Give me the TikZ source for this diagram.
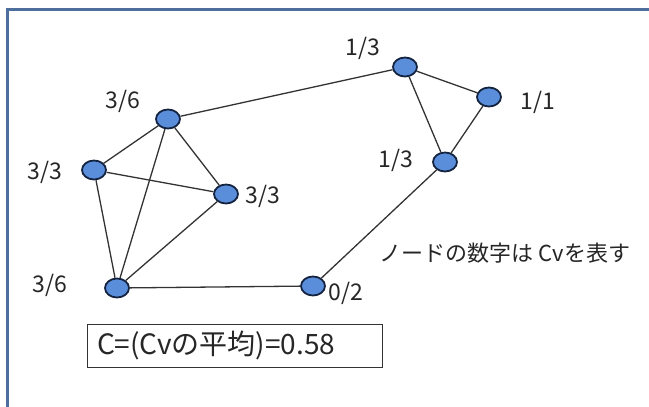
\documentclass[tikz,border=0pt]{standalone}
\usepackage{fontspec}
\setmainfont{Noto Sans CJK JP}
\usetikzlibrary{
  shapes.geometric,  % 椭圆节点
  positioning        % 节点相对定位
}
\definecolor{frameblue}{HTML}{4E6E9E}
\definecolor{nodeblue}{HTML}{5A8EDB}
\definecolor{nodeedge}{HTML}{14233F}
\definecolor{edgegray}{HTML}{333333}

\begin{document}
\begin{tikzpicture}[x=1pt, y=-1pt,
    vtx/.style={ellipse, draw=nodeedge, fill=nodeblue, line width=1.8pt,
      minimum width=24pt, minimum height=19pt, inner sep=0pt},
    edge/.style={draw=edgegray, line width=1.3pt},
    cv/.style={font=\fontsize{23}{25}\selectfont, text=black!85, inner sep=0pt}]
    \useasboundingbox (0,0) rectangle (649,407);

    % 外框（只有左边和上边）
    \draw[frameblue, line width=3pt] (7.5,407) -- (7.5,9.5) -- (649,9.5);

    % 顶点
    \node[vtx] (A) at (168,119) {};
    \node[vtx] (B) at (94,170) {};
    \node[vtx] (C) at (226,194) {};
    \node[vtx] (D) at (117,288) {};
    \node[vtx] (E) at (313,286) {};
    \node[vtx] (F) at (445,162) {};
    \node[vtx] (G) at (405,67) {};
    \node[vtx] (H) at (489,97) {};

    % 边
    \draw[edge] (A) -- (B);
    \draw[edge] (A) -- (C);
    \draw[edge] (A) -- (D);
    \draw[edge] (B) -- (C);
    \draw[edge] (B) -- (D);
    \draw[edge] (C) -- (D);
    \draw[edge] (D) -- (E);
    \draw[edge] (E) -- (F);
    \draw[edge] (F) -- (G);
    \draw[edge] (F) -- (H);
    \draw[edge] (G) -- (H);
    \draw[edge] (A) -- (G);

    % 顶点标注 Cv
    \node[cv] (lA) at (123,101) {3/6};
    \node[cv] (lB) at (45,172) {3/3};
    \node[cv] (lC) at (263,196) {3/3};
    \node[cv] (lD) at (50,285) {3/6};
    \node[cv] (lE) at (346,293) {0/2};
    \node[cv] (lF) at (396,160) {1/3};
    \node[cv] (lG) at (363,48) {1/3};
    \node[cv] (lH) at (538,102) {1/1};

    % 说明文字
    \node[font=\fontsize{22}{24}\selectfont, text=black!85, inner sep=0pt]
      (note) at (505,253) {ノードの数字は Cvを表す};
    \node[draw=black!80, line width=1pt, text width=275pt, align=left,
      minimum height=43pt, inner xsep=10pt, inner ysep=0pt,
      font=\fontsize{28}{30}\selectfont, text=black!85]
      (avg) at (234.5,345.5) {C=(Cvの平均)=0.58};
  \end{tikzpicture}
\end{document}
